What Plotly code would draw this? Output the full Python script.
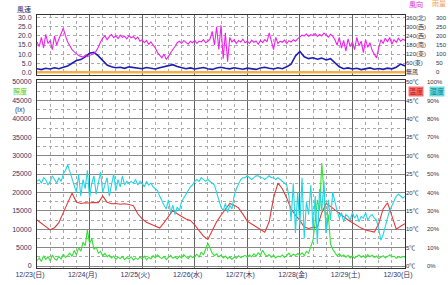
import plotly.graph_objects as go
import pandas as pd

START = "2012-12-23 00:00"
END = "2012-12-30 00:00"

day_ticks = ["2012-12-23", "2012-12-24", "2012-12-25", "2012-12-26",
             "2012-12-27", "2012-12-28", "2012-12-29", "2012-12-30"]
day_labels = ["12/23(日)", "12/24(月)", "12/25(火)", "12/26(水)",
              "12/27(木)", "12/28(金)", "12/29(土)", "12/30(日)"]

speed_ticks = [0, 5, 10, 15, 20, 25, 30]
speed_labels = ["0.0", "5.0", "10.0", "15.0", "20.0", "25.0", "30.0"]
dir_ticks = [0, 60, 120, 180, 240, 300, 360]
dir_labels = ["無風", "60(東)", "120(東)", "180(南)", "240(西)", "300(西)", "360(北)"]
rain_ticks = [0, 50, 100, 150, 200, 250, 300]
rain_labels = ["0", "50", "100", "150", "200", "250", "300"]
lux_ticks = [0, 5000, 10000, 15000, 20000, 25000, 30000, 35000, 40000, 45000, 50000]
lux_labels = ["0", "5000", "10000", "15000", "20000", "25000", "30000",
              "35000", "40000", "45000", "50000"]
temp_ticks = [0, 5, 10, 15, 20, 25, 30, 35, 40, 45, 50]
temp_labels = ["0℃", "5℃", "10℃", "15℃", "20℃", "25℃", "30℃", "35℃", "40℃", "45℃", "50℃"]
hum_ticks = [0, 10, 20, 30, 40, 50, 60, 70, 80, 90, 100]
hum_labels = ["0%", "10%", "20%", "30%", "40%", "50%", "60%", "70%", "80%", "90%", "100%"]

# wind speed (m/s), every 2 hours
wind_speed = [
    2.0, 1.5, 2.2, 1.8, 2.5, 2.0, 2.8, 3.5, 5.0, 6.5, 7.0, 8.5,
    10.5, 11.0, 9.0, 6.5, 4.0, 3.0, 2.5, 2.8, 2.2, 3.0, 2.6, 2.4,
    2.0, 2.6, 2.2, 1.8, 2.5, 3.0, 3.8, 4.2, 3.2, 2.5, 2.0, 2.4,
    1.8, 2.2, 2.6, 2.0, 1.6, 2.4, 2.8, 2.2, 1.9, 2.5, 2.1, 1.7,
    2.3, 2.0, 1.6, 2.4, 2.8, 2.2, 1.8, 2.5, 2.0, 3.0, 4.5, 9.0,
    11.5, 8.5, 7.5, 8.0, 7.2, 7.8, 6.8, 7.5, 5.5, 3.0, 2.0, 2.4,
    1.8, 2.2, 1.5, 2.0, 2.4, 1.7, 2.1, 1.6, 2.3, 1.9, 2.8, 4.5, 3.5,
]

# wind direction (deg), hourly
wind_dir = [
    200, 170, 230, 160, 250, 190, 210, 150, 240, 180, 220, 260, 290, 240, 200, 175, 150, 135, 120, 110, 105, 100, 112, 104,
    110, 118, 125, 140, 165, 200, 225, 240, 215, 235, 250, 228, 240, 222, 245, 230, 238, 220, 242, 228, 236, 218, 232, 205,
    215, 195, 210, 185, 200, 180, 160, 130, 110, 95, 120, 85, 105, 130, 150, 170, 195, 205, 190, 210, 200, 185, 205, 195,
    210, 190, 205, 200, 215, 195, 205, 220, 270, 180, 300, 150, 310, 90, 260, 70, 230, 200, 215, 190, 210, 200, 218, 195,
    205, 190, 212, 198, 206, 185, 210, 196, 215, 200, 260, 195, 150, 230, 190, 205, 198, 212, 190, 208, 200, 215, 205, 220,
    235, 245, 240, 252, 238, 248, 242, 255, 236, 250, 240, 258, 245, 232, 250, 238, 215, 180, 230, 160, 210, 140, 220, 170,
    200, 150, 230, 175, 205, 130, 215, 165, 195, 145, 120, 95, 160, 215, 190, 225, 200, 230, 185, 215, 198, 225, 205, 218, 210,
]

# rainfall (mm), every 12 hours
rain = [0, 0, 0, 0, 0, 0, 0, 0, 0, 0, 0, 0, 0, 0, 0]

# illuminance (lx), hourly
lux = [
    1500, 2200, 1200, 2800, 1800, 2500, 1400, 3000, 2000, 1600, 2600, 1900, 3200, 2300, 2800, 3500, 2600, 4200, 3000, 5000, 4000, 6500, 5500, 9800,
    6000, 7500, 4500, 5200, 3500, 4000, 2800, 3400, 2500, 3000, 2200, 2700, 1800, 2400, 2000, 2600, 1700, 2300, 1900, 2500, 1600, 2200, 1800, 2400,
    2000, 2700, 1700, 2400, 1900, 2800, 2200, 3000, 2400, 2000, 2600, 1800, 2300, 2900, 2100, 2500, 1900, 2700, 2200, 3100, 2500, 2000, 2800, 2300,
    2600, 3200, 2400, 3800, 3000, 4500, 6200, 4800, 3500, 2800, 3300, 2500, 3000, 2200, 2700, 2000, 2500, 1800, 2400, 2100, 2800, 2300, 2600, 2900,
    2400, 3000, 2500, 3300, 2700, 3600, 3000, 4300, 3200, 2600, 3100, 2400, 2900, 2200, 2700, 2500, 3000, 2300, 2800, 3500, 2600, 3200, 2900, 3400,
    3000, 3600, 2800, 4000, 3500, 5000, 7000, 12000, 18000, 15000, 28000, 20000, 9000, 14000, 6000, 4500, 3500, 2800, 3300, 2600, 3000, 2400, 2900, 2200,
    2700, 2100, 2600, 3000, 2400, 2800, 2200, 3100, 2500, 2900, 2300, 2700, 2000, 2500, 2800, 2200, 2600, 3000, 2400, 2700, 2100, 2500, 2300, 2600, 2400,
]

# humidity (%), hourly
humidity = [
    46, 47, 45, 48, 47, 44, 46, 49, 47, 45, 48, 46, 50, 52, 55, 51, 48, 44, 40, 50, 38, 47, 42, 52,
    37, 45, 49, 39, 46, 51, 40, 44, 48, 38, 45, 50, 41, 47, 43, 49, 44, 46, 45, 46, 45, 47, 44, 46,
    45, 43, 46, 44, 45, 43, 42, 41, 38, 35, 33, 31, 36, 29, 33, 28, 32, 30, 35, 37, 39, 41, 43, 44,
    46, 47, 46, 48, 47, 46, 47, 46, 45, 44, 40, 36, 32, 30, 34, 29, 33, 31, 38, 42, 45, 47, 48, 48,
    49, 48, 47, 48, 49, 49, 48, 48, 47, 48, 49, 48, 48, 47, 48, 47, 46, 45, 44, 38, 25, 45, 18, 40,
    22, 48, 15, 35, 28, 44, 20, 38, 12, 42, 30, 46, 18, 36, 25, 40, 34, 30, 26, 29, 24, 28, 27, 25,
    29, 26, 28, 24, 27, 26, 29, 25, 27, 28, 26, 25, 20, 14, 17, 22, 26, 30, 33, 36, 38, 39, 38, 37, 38,
]

# temperature (deg C), every 2 hours
temperature = [
    12.5, 11.6, 10.6, 9.8, 10.4, 11.8, 14.5, 17.3, 19.8, 17.4, 17.0, 17.2,
    17.1, 17.3, 17.2, 19.0, 17.3, 16.9, 17.0, 16.8, 16.9, 16.7, 16.4, 14.2,
    12.8, 11.9, 11.3, 10.8, 10.3, 11.8, 13.6, 15.1, 14.2, 13.5, 12.8, 12.4,
    11.2, 9.6, 8.1, 7.2, 9.5, 12.0, 13.8, 15.5, 17.0, 16.5, 15.8, 14.1,
    12.2, 11.4, 10.6, 9.8, 9.2, 12.0, 18.5, 22.5, 21.0, 18.5, 15.5, 13.8,
    12.4, 10.6, 10.2, 10.5, 10.6, 14.5, 17.0, 16.2, 15.2, 14.3, 13.4, 12.5,
    11.7, 11.0, 10.3, 9.8, 9.5, 9.2, 11.5, 15.5, 17.2, 13.5, 10.0, 10.8, 11.5,
]

t_1h = pd.date_range(START, periods=len(wind_dir), freq="1h")
t_2h = pd.date_range(START, periods=len(wind_speed), freq="2h")
t_12h = pd.date_range(START, periods=len(rain), freq="12h")
t_lux = pd.date_range(START, periods=len(lux), freq="1h")
t_hum = pd.date_range(START, periods=len(humidity), freq="1h")
t_tmp = pd.date_range(START, periods=len(temperature), freq="2h")

W, H = 448, 285
ML, MR, MT, MB = 37, 0, 15, 17
PW = W - ML - MR
PH = H - MT - MB


def pxx(x):
    return (x - ML) / PW


def pxy(y):
    return (H - MB - y) / PH


XD = pxx(405)
TOP_DOM = [pxy(75), 1.0]
BOT_DOM = [0.0, pxy(80)]

fig = go.Figure()
fig.add_trace(go.Scatter(x=t_12h, y=rain, xaxis="x", yaxis="y4", mode="lines",
                         line=dict(color="#f2b24a", width=2.5), hoverinfo="skip"))
fig.add_trace(go.Scatter(x=t_1h, y=wind_dir, xaxis="x", yaxis="y3", mode="lines",
                         line=dict(color="#ee22ee", width=1.1)))
fig.add_trace(go.Scatter(x=t_2h, y=wind_speed, xaxis="x", yaxis="y", mode="lines",
                         line=dict(color="#1e1eb4", width=1.6)))

fig.add_trace(go.Scatter(x=t_hum, y=humidity, xaxis="x2", yaxis="y6", mode="lines",
                         line=dict(color="#22d4e4", width=1.1)))
fig.add_trace(go.Scatter(x=t_lux, y=lux, xaxis="x2", yaxis="y2", mode="lines",
                         line=dict(color="#33e033", width=1.1)))
fig.add_trace(go.Scatter(x=t_tmp, y=temperature, xaxis="x2", yaxis="y5", mode="lines",
                         line=dict(color="#e03a3a", width=1.1)))

common_x = dict(type="date", range=[START, END], tickmode="array", tickvals=day_ticks,
                showgrid=True, gridcolor="#666666", gridwidth=1,
                minor=dict(dtick=6 * 3600 * 1000, tick0=START, showgrid=True,
                           gridcolor="#aaaaaa", griddash="dot"),
                showline=True, linecolor="#333333", linewidth=1, mirror=True,
                ticks="", zeroline=False, automargin=False, domain=[0, XD])

fig.update_layout(
    width=W, height=H,
    margin=dict(l=ML, r=MR, t=MT, b=MB),
    paper_bgcolor="white", plot_bgcolor="white",
    showlegend=False,
    font=dict(family="Liberation Sans, Noto Sans CJK JP", size=8, color="#333344"),
    xaxis=dict(common_x, anchor="y", showticklabels=False),
    xaxis2=dict(common_x, anchor="y2", matches="x", ticktext=day_labels,
                tickfont=dict(size=7, color="#333366"), ticklabelshift=-7),
    yaxis=dict(domain=TOP_DOM, range=[-1.48, 31.48], tickmode="array",
               tickvals=speed_ticks, ticktext=speed_labels,
               showgrid=True, gridcolor="#aaaaaa", griddash="dot",
               showline=True, linecolor="#333333", mirror=True, zeroline=False,
               ticks="", ticklabelstandoff=3, automargin=False,
               tickfont=dict(size=7, color="#333366")),
    yaxis3=dict(overlaying="y", anchor="x", side="right", range=[-17.8, 377.8],
                tickmode="array", tickvals=dir_ticks, ticktext=dir_labels,
                showgrid=False, zeroline=False, ticks="", automargin=False,
                tickfont=dict(size=6, color="#333344")),
    yaxis4=dict(overlaying="y", anchor="free", position=pxx(435), side="right",
                range=[-14.8, 314.8], tickmode="array", tickvals=rain_ticks,
                ticktext=rain_labels, showgrid=False, zeroline=False, ticks="",
                automargin=False, tickfont=dict(size=6, color="#333344")),
    yaxis2=dict(domain=BOT_DOM, range=[-543, 50543], tickmode="array",
                tickvals=lux_ticks, ticktext=lux_labels,
                showgrid=True, gridcolor="#888888",
                minor=dict(dtick=2500, tick0=0, showgrid=True, gridcolor="#aaaaaa",
                           griddash="dot"),
                showline=True, linecolor="#333333", mirror=True, zeroline=False,
                ticks="", ticklabelstandoff=3, automargin=False,
                tickfont=dict(size=7, color="#333366")),
    yaxis5=dict(overlaying="y2", anchor="x2", side="right", range=[-0.543, 50.543],
                tickmode="array", tickvals=temp_ticks, ticktext=temp_labels,
                showgrid=False, zeroline=False, ticks="", automargin=False,
                tickfont=dict(size=6, color="#333344")),
    yaxis6=dict(overlaying="y2", anchor="free", position=pxx(426), side="right",
                range=[-1.086, 101.086], tickmode="array", tickvals=hum_ticks,
                ticktext=hum_labels, showgrid=False, zeroline=False, ticks="",
                automargin=False, tickfont=dict(size=6, color="#333344")),
)

annos = [
    dict(text="風速", x=pxx(24), y=pxy(10), color="#222266", bg=None),
    dict(text="風向", x=pxx(416), y=pxy(4), color="#dd22dd", bg=None),
    dict(text="雨量", x=pxx(439), y=pxy(4), color="#f0a050", bg=None),
    dict(text="照度", x=pxx(20), y=pxy(91), color="#33cc33", bg=None),
    dict(text="(lx)", x=pxx(20), y=pxy(110), color="#333366", bg=None),
    dict(text="温度", x=pxx(416), y=pxy(91), color="#aa2222", bg="#ff7070"),
    dict(text="湿度", x=pxx(437), y=pxy(91), color="#227777", bg="#66e0e8"),
]
for a in annos:
    fig.add_annotation(text=a["text"], x=a["x"], y=a["y"], xref="paper", yref="paper",
                       showarrow=False, xanchor="center", yanchor="middle",
                       font=dict(size=7, color=a["color"]),
                       bgcolor=a["bg"], borderpad=0)

fig.write_html("out.html", config={"displayModeBar": False},
               post_script="document.body.style.margin='0';")
